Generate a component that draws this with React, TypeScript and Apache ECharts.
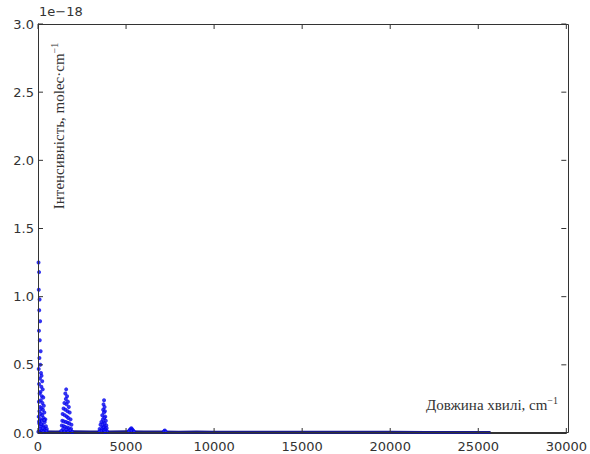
import React, { useEffect, useRef } from "react";
import * as echarts from "echarts";

// x: wavenumber (cm^-1), y: intensity in units of 1e-18
const xTicks = [0, 5000, 10000, 15000, 20000, 25000, 30000];
const yTicks = [0.0, 0.5, 1.0, 1.5, 2.0, 2.5, 3.0];

const band1: number[][] = [
  [30, 1.25], [60, 1.18], [45, 1.05], [90, 0.98], [70, 0.9], [120, 0.82], [55, 0.75],
  [100, 0.68], [150, 0.6], [80, 0.55], [130, 0.5], [40, 0.47], [170, 0.44], [200, 0.42],
  [110, 0.4], [240, 0.38], [60, 0.36], [190, 0.34], [270, 0.32], [140, 0.3], [90, 0.29],
  [220, 0.27], [300, 0.26], [160, 0.24], [50, 0.23], [250, 0.22], [330, 0.2], [120, 0.19],
  [200, 0.18], [280, 0.17], [80, 0.16], [360, 0.15], [170, 0.14], [240, 0.13], [40, 0.12],
  [310, 0.11], [130, 0.1], [210, 0.09], [380, 0.08], [70, 0.07], [260, 0.06], [150, 0.05],
  [340, 0.04], [100, 0.03], [230, 0.02], [400, 0.02], [20, 0.01], [300, 0.01], [450, 0.05],
  [500, 0.03], [420, 0.1], [480, 0.015], [180, 0.065], [60, 0.085], [350, 0.095], [270, 0.035]
];

const band2: number[][] = [
  [1600, 0.32], [1550, 0.29], [1650, 0.27], [1580, 0.25], [1700, 0.23], [1500, 0.22],
  [1620, 0.21], [1750, 0.19], [1450, 0.18], [1560, 0.17], [1680, 0.16], [1800, 0.15],
  [1400, 0.14], [1520, 0.13], [1640, 0.12], [1720, 0.11], [1850, 0.1], [1380, 0.09],
  [1480, 0.085], [1590, 0.08], [1700, 0.075], [1780, 0.07], [1900, 0.06], [1350, 0.055],
  [1460, 0.05], [1540, 0.045], [1660, 0.04], [1760, 0.035], [1880, 0.03], [1420, 0.028],
  [1620, 0.025], [1820, 0.02], [1320, 0.015], [1500, 0.012], [1700, 0.01], [1950, 0.008]
];

const band3: number[][] = [
  [3750, 0.24], [3720, 0.21], [3780, 0.19], [3700, 0.17], [3800, 0.16], [3740, 0.15],
  [3650, 0.13], [3820, 0.12], [3760, 0.11], [3680, 0.1], [3850, 0.09], [3600, 0.08],
  [3730, 0.075], [3790, 0.07], [3550, 0.06], [3880, 0.055], [3660, 0.05], [3770, 0.045],
  [3710, 0.04], [3900, 0.035], [3500, 0.03], [3620, 0.028], [3830, 0.025], [3690, 0.02],
  [3760, 0.018], [3580, 0.015], [3920, 0.012], [3480, 0.01], [3800, 0.008]
];

const band4: number[][] = [
  [5300, 0.035], [5250, 0.028], [5350, 0.025], [5200, 0.02], [5400, 0.018],
  [5280, 0.015], [5150, 0.012], [5450, 0.01]
];

const band5: number[][] = [[7200, 0.018], [7150, 0.012], [7250, 0.01]];

const baseline: number[][] = [
  [0, 0.01], [1000, 0.008], [2000, 0.009], [3000, 0.007], [4000, 0.008], [5000, 0.009],
  [6000, 0.007], [7000, 0.008], [8000, 0.006], [9000, 0.007], [10000, 0.006], [12000, 0.006],
  [14000, 0.005], [16000, 0.005], [18000, 0.005], [20000, 0.005], [22000, 0.004],
  [24000, 0.004], [25700, 0.004]
];

const xLabel = "Довжина хвилі, cm";
const yLabel = "Інтенсивність, molec·cm";

const G = { left: 38, right: 21, top: 24, bottom: 21 };
const W = 590;
const H = 454;

export default function App() {
  const ref = useRef<HTMLDivElement>(null);
  useEffect(() => {
    if (!ref.current) return;
    const chart = echarts.init(ref.current, null, { renderer: "svg" });
    const tickFont = { fontFamily: "DejaVu Sans", fontSize: 13, color: "#333" };
    const xMin = xTicks[0], xMax = xTicks[xTicks.length - 1];
    const yMin = yTicks[0], yMax = yTicks[yTicks.length - 1];
    const T = 5;
    const tickStyle = { stroke: "#333", lineWidth: 1 };
    const scatterStyle = {
      type: "scatter" as const,
      symbol: "emptyCircle",
      symbolSize: 2,
      itemStyle: { color: "#0000ee", borderWidth: 1 },
      silent: true,
    };
    const rich = {
      n: { font: "15px 'Liberation Serif'", fill: "#333" },
      s: { font: "10px 'Liberation Serif'", fill: "#333", padding: [0, 0, 9, 0] },
    };
    chart.setOption({
      animation: false,
      backgroundColor: "#fff",
      grid: [{ ...G, containLabel: false }],
      xAxis: {
        type: "value", min: xMin, max: xMax, interval: 5000,
        axisLine: { show: true, onZero: false, lineStyle: { color: "#333" } },
        axisTick: { show: false }, splitLine: { show: false },
        axisLabel: { ...tickFont, margin: 7, formatter: (v: number) => String(v) },
      },
      yAxis: {
        type: "value", min: yMin, max: yMax, interval: 0.5,
        axisLine: { show: true, onZero: false, lineStyle: { color: "#333" } },
        axisTick: { show: false }, splitLine: { show: false },
        axisLabel: { ...tickFont, margin: 4, formatter: (v: number) => v.toFixed(1) },
      },
      graphic: [
        {
          type: "rect", silent: true, z: 100,
          shape: { x: G.left + 0.5, y: G.top + 0.5, width: W - G.left - G.right - 1, height: H - G.top - G.bottom - 1 },
          style: { fill: "none", stroke: "#333", lineWidth: 1 },
        },
        {
          type: "text", left: 39, top: 5,
          style: { text: "1e−18", font: "13px 'DejaVu Sans'", fill: "#333" },
        },
        {
          type: "text", x: 59, y: 126, rotation: Math.PI / 2,
          style: {
            text: "{n|" + yLabel + "}{s|−1}",
            align: "center", verticalAlign: "middle", rich,
          },
        },
        {
          type: "text", x: 558, y: 405,
          style: {
            text: "{n|" + xLabel + "}{s|−1}",
            align: "right", verticalAlign: "middle", rich,
          },
        },
      ],
      series: [
        {
          type: "line", data: baseline, showSymbol: false, symbol: "none",
          lineStyle: { color: "#1a1a8c", width: 3 }, silent: true, z: 1,
        },
        { ...scatterStyle, data: band1 },
        { ...scatterStyle, data: band2 },
        { ...scatterStyle, data: band3 },
        { ...scatterStyle, data: band4 },
        { ...scatterStyle, data: band5 },
        {
          type: "custom", silent: true, clip: false, z: 10,
          data: xTicks.map((v) => [v]),
          encode: { x: 0 },
          renderItem: (params: any, api: any) => {
            const v = api.value(0);
            const b = api.coord([v, yMin]);
            const t = api.coord([v, yMax]);
            return {
              type: "group",
              children: [
                { type: "line", shape: { x1: b[0], y1: b[1], x2: b[0], y2: b[1] - T }, style: tickStyle },
                { type: "line", shape: { x1: t[0], y1: t[1], x2: t[0], y2: t[1] + T }, style: tickStyle },
              ],
            };
          },
        },
        {
          type: "custom", silent: true, clip: false, z: 10,
          data: yTicks.map((v) => [xMin, v]),
          encode: { x: 0, y: 1 },
          renderItem: (params: any, api: any) => {
            const v = api.value(1);
            const l = api.coord([xMin, v]);
            const r = api.coord([xMax, v]);
            return {
              type: "group",
              children: [
                { type: "line", shape: { x1: l[0], y1: l[1], x2: l[0] + T, y2: l[1] }, style: tickStyle },
                { type: "line", shape: { x1: r[0], y1: r[1], x2: r[0] - T, y2: r[1] }, style: tickStyle },
              ],
            };
          },
        },
      ],
    });
    return () => chart.dispose();
  }, []);
  return <div ref={ref} style={{ width: W, height: H, position: "absolute", left: 0, top: 0 }} />;
}
